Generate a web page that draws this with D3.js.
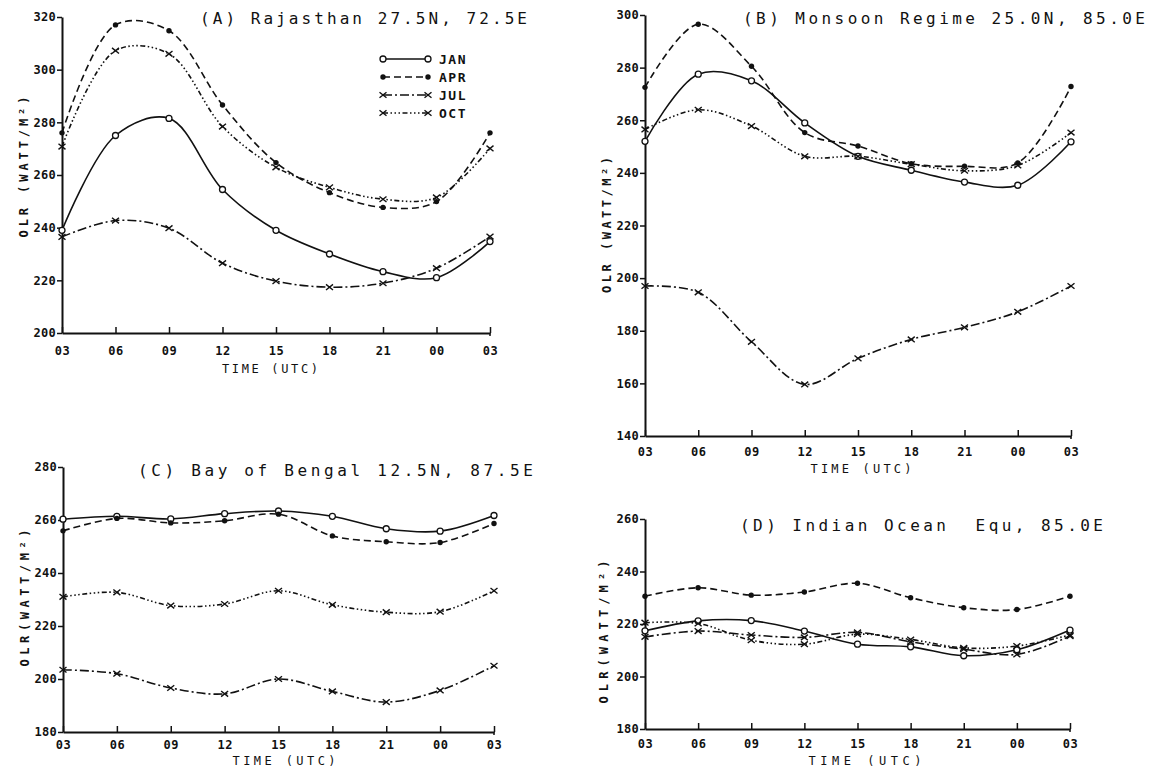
<!DOCTYPE html>
<html><head><meta charset="utf-8">
<script src="https://cdn.jsdelivr.net/npm/d3@7"></script>
<style>
html,body{margin:0;padding:0;background:#fff;}
svg{display:block;}
</style></head>
<body>
<svg id="chart" width="1152" height="770"></svg>
<script>
// ---------- data ----------
const hours = [3, 6, 9, 12, 15, 18, 21, 24, 27];
const tickLabels = ["03","06","09","12","15","18","21","00","03"];
const seriesNames = ["JAN","APR","JUL","OCT"];

// (A) Rajasthan
const rajJan = [239, 275, 281.5, 254.5, 239, 230, 223.3, 221, 234.7];
const rajApr = [276, 317, 314.8, 286.6, 264.7, 253.3, 247.7, 249.9, 276];
const rajJul = [236.5, 242.7, 239.8, 226.5, 219.7, 217.4, 218.9, 224.6, 236.6];
const rajOct = [270.8, 307.2, 306, 278.4, 262.9, 255.3, 250.8, 251.5, 270.1];
const rajTicks = [200, 220, 240, 260, 280, 300, 320];

// (B) Monsoon regime
const monJan = [252, 277.5, 275, 259, 246.3, 241, 236.5, 235.3, 251.8];
const monApr = [272.5, 296.5, 280.5, 255.3, 250.2, 243.5, 242.5, 243.8, 272.8];
const monJul = [197, 194.6, 175.8, 159.6, 169.5, 176.7, 181.3, 187.2, 197];
const monOct = [256.5, 264, 257.8, 246.3, 246.3, 243.3, 240.8, 242.8, 255.3];
const monTicks = [140, 160, 180, 200, 220, 240, 260, 280, 300];

// (C) Bay of Bengal
const bobJan = [260.3, 261.4, 260.4, 262.4, 263.4, 261.4, 256.7, 255.8, 261.7];
const bobApr = [255.9, 260.6, 258.9, 259.7, 262.2, 254, 251.8, 251.5, 258.7];
const bobJul = [203.5, 202, 196.6, 194.4, 200, 195.3, 191.3, 195.7, 205];
const bobOct = [231, 232.7, 227.7, 228.3, 233.3, 228, 225.2, 225.4, 233.3];
const bobTicks = [180, 200, 220, 240, 260, 280];

// (D) Indian Ocean
const indJan = [217.4, 221.2, 221.3, 217.3, 212.3, 211.3, 207.9, 210.2, 217.7];
const indApr = [230.6, 233.8, 231, 232.2, 235.5, 230, 226.2, 225.5, 230.6];
const indJul = [215.1, 217.3, 215.8, 214.9, 216.8, 213.2, 210.4, 208.4, 215.4];
const indOct = [220.5, 220.2, 213.8, 212.3, 216.1, 214.1, 210.9, 211.6, 215.8];
const indTicks = [180, 200, 220, 240, 260];

const titles = ["(A) Rajasthan 27.5N, 72.5E", "(B) Monsoon Regime 25.0N, 85.0E",
                "(C) Bay of Bengal 12.5N, 87.5E", "(D) Indian Ocean  Equ, 85.0E"];
const yTitles = ["OLR (WATT/M²)", "OLR (WATT/M²)", "OLR(WATT/M²)", "OLR(WATT/M²)"];
const xTitle = "TIME (UTC)";

// ---------- layout / styles ----------
const panels = [
  {series:[rajJan, rajApr, rajJul, rajOct], ticks:rajTicks, x0:62, x1:490, yTop:17, yBot:333,
   title:{x:200, y:24, len:327}, yt:{x:28, y:167, len:141}, xt:{x:270, y:373, len:96}, tl:{y:355}, legend:true},
  {series:[monJan, monApr, monJul, monOct], ticks:monTicks, x0:645, x1:1071, yTop:15, yBot:436,
   title:{x:743, y:24, len:402}, yt:{x:611, y:225, len:136}, xt:{x:861, y:473, len:101}, tl:{y:456}},
  {series:[bobJan, bobApr, bobJul, bobOct], ticks:bobTicks, x0:63, x1:494, yTop:467, yBot:732,
   title:{x:138, y:476, len:395}, yt:{x:29, y:598, len:137}, xt:{x:284, y:765, len:103}, tl:{y:749}},
  {series:[indJan, indApr, indJul, indOct], ticks:indTicks, x0:645, x1:1070, yTop:519, yBot:729,
   title:{x:740, y:531, len:363}, yt:{x:608, y:632, len:143}, xt:{x:865, y:765, len:113}, tl:{y:748}}
];
const dashes = [null, "7,4", "9,3,2,3", "5,2.5,1.5,2.5,1.5,2.5,1.5,2.5"];
const markers = ["open", "dot", "x", "x"];

const svg = d3.select("#chart");
const ink = "#111";
const tickFont = "'DejaVu Sans Mono', monospace";

function drawMarker(g, type, cx, cy) {
  if (type === "open") {
    g.append("circle").attr("cx", cx).attr("cy", cy).attr("r", 3)
      .attr("fill", "#fff").attr("stroke", ink).attr("stroke-width", 1.3);
  } else if (type === "dot") {
    g.append("circle").attr("cx", cx).attr("cy", cy).attr("r", 2.7).attr("fill", ink);
  } else {
    const s = 3.5;
    g.append("path")
      .attr("d", `M${cx-s},${cy-s*0.8}L${cx+s},${cy+s*0.8}M${cx-s},${cy+s*0.8}L${cx+s},${cy-s*0.8}`)
      .attr("stroke", ink).attr("stroke-width", 1.4).attr("fill", "none");
  }
}

panels.forEach((p, pi) => {
  const x = d3.scaleLinear().domain([hours[0], hours[hours.length-1]]).range([p.x0, p.x1]);
  const y = d3.scaleLinear().domain([p.ticks[0], p.ticks[p.ticks.length-1]]).range([p.yBot, p.yTop]);
  const g = svg.append("g");

  // y axis
  const ya = g.append("g").attr("transform", `translate(${p.x0},0)`)
    .call(d3.axisLeft(y).tickValues(p.ticks).tickSize(5).tickSizeOuter(0).tickPadding(1).tickFormat(d3.format("d")));
  ya.select(".domain").attr("stroke", ink).attr("stroke-width", 2);
  ya.selectAll(".tick line").attr("stroke", ink).attr("stroke-width", 1.5);
  ya.selectAll("text").attr("font-family", tickFont).attr("font-weight", "bold")
    .attr("font-size", 12).attr("fill", ink).attr("letter-spacing", "0.3px");

  // x axis
  const xa = g.append("g").attr("transform", `translate(0,${p.yBot})`)
    .call(d3.axisBottom(x).tickValues(hours).tickSize(-6).tickSizeOuter(0).tickPadding(0)
      .tickFormat((d, i) => tickLabels[i]));
  xa.select(".domain").attr("stroke", ink).attr("stroke-width", 2);
  xa.selectAll(".tick line").attr("stroke", ink).attr("stroke-width", 1.5);
  xa.selectAll("text").attr("font-family", tickFont).attr("font-weight", "bold")
    .attr("font-size", 12).attr("fill", ink).attr("dy", null)
    .attr("y", p.tl.y - p.yBot).attr("letter-spacing", "0.5px");
  // small downward tick at the right end
  g.append("line").attr("x1", p.x1).attr("x2", p.x1).attr("y1", p.yBot).attr("y2", p.yBot + 3)
    .attr("stroke", ink).attr("stroke-width", 1.5);

  // lines
  const line = d3.line().x((d, i) => x(hours[i])).y(d => y(d)).curve(d3.curveCatmullRom.alpha(0.5));
  p.series.forEach((vals, si) => {
    g.append("path").attr("d", line(vals)).attr("fill", "none").attr("stroke", ink)
      .attr("stroke-width", 1.6).attr("stroke-dasharray", dashes[si]);
  });
  p.series.forEach((vals, si) => {
    vals.forEach((v, i) => drawMarker(g, markers[si], x(hours[i]), y(v)));
  });

  // titles
  g.append("text").attr("x", p.title.x).attr("y", p.title.y).text(titles[pi])
    .attr("font-family", tickFont).attr("font-size", 16).attr("fill", ink)
    .attr("textLength", p.title.len).attr("lengthAdjust", "spacing")
    .style("white-space", "pre");
  g.append("text").attr("transform", `translate(${p.yt.x},${p.yt.y}) rotate(-90)`)
    .attr("text-anchor", "middle").text(yTitles[pi])
    .attr("font-family", tickFont).attr("font-weight", "bold").attr("font-size", 12).attr("fill", ink)
    .attr("textLength", p.yt.len).attr("lengthAdjust", "spacing");
  g.append("text").attr("x", p.xt.x).attr("y", p.xt.y).attr("text-anchor", "middle").text(xTitle)
    .attr("font-family", tickFont).attr("font-size", 12).attr("fill", ink)
    .attr("textLength", p.xt.len).attr("lengthAdjust", "spacing");

  // legend
  if (p.legend) {
    const lg = g.append("g");
    const rowsY = [59, 77, 95, 113];
    seriesNames.forEach((nm, si) => {
      const ry = rowsY[si];
      lg.append("line").attr("x1", 383).attr("x2", 428).attr("y1", ry).attr("y2", ry)
        .attr("stroke", ink).attr("stroke-width", 1.6).attr("stroke-dasharray", dashes[si]);
      drawMarker(lg, markers[si], 383, ry);
      drawMarker(lg, markers[si], 428, ry);
      lg.append("text").attr("x", 439).attr("y", ry + 5).text(nm)
        .attr("font-family", tickFont).attr("font-weight", "bold").attr("font-size", 13)
        .attr("fill", ink).attr("letter-spacing", "1.5px");
    });
  }
});
</script>
</body></html>
